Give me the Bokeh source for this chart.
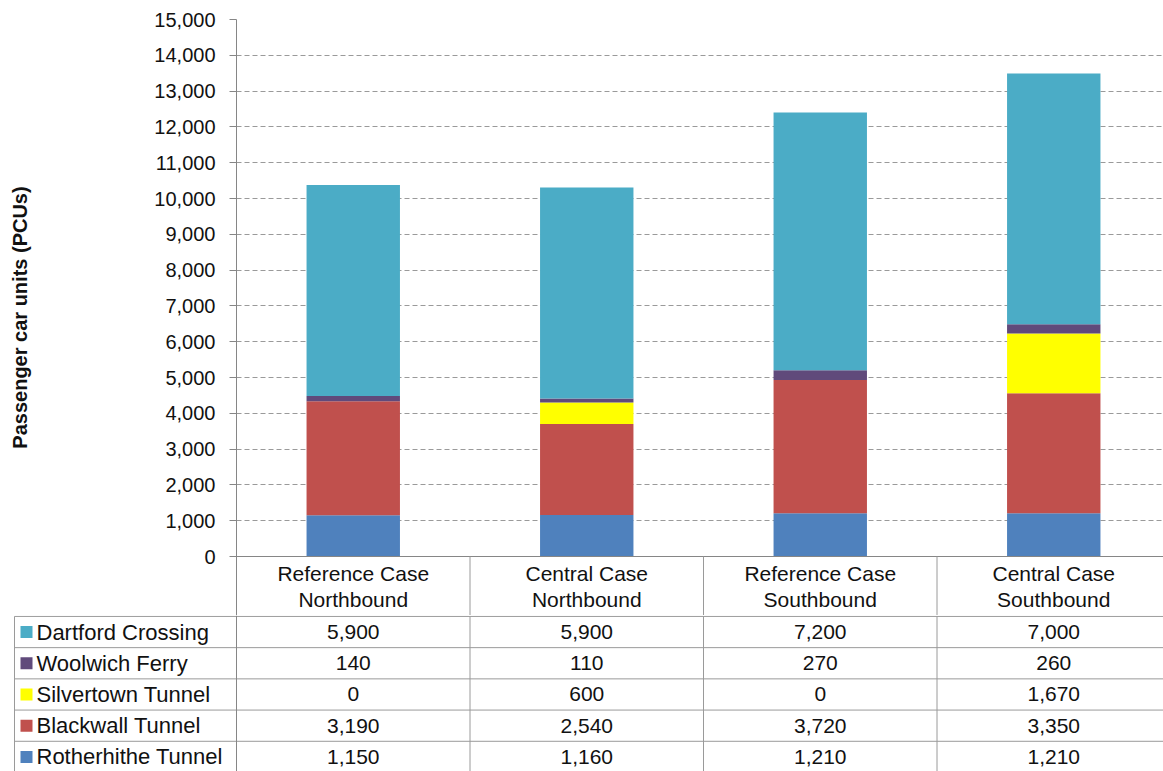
from bokeh.plotting import figure
from bokeh.models import (ColumnDataSource, Range1d, FixedTicker, NumeralTickFormatter)
from bokeh.core.properties import value
from bokeh.embed import file_html
from bokeh.resources import INLINE

# ---- data ----
cat_line1 = ["Reference Case", "Central Case", "Reference Case", "Central Case"]
cat_line2 = ["Northbound", "Northbound", "Southbound", "Southbound"]
rotherhithe = [1150, 1160, 1210, 1210]
blackwall = [3190, 2540, 3720, 3350]
silvertown = [0, 600, 0, 1670]
woolwich = [140, 110, 270, 260]
dartford = [5900, 5900, 7200, 7000]

series_names = ["Rotherhithe Tunnel", "Blackwall Tunnel", "Silvertown Tunnel",
                "Woolwich Ferry", "Dartford Crossing"]
series_values = [rotherhithe, blackwall, silvertown, woolwich, dartford]
colors = ["#4F81BD", "#C0504D", "#FFFF00", "#604A7B", "#4BACC6"]

y_ticks = list(range(0, 15001, 1000))

FONT = "Liberation Sans"
GRID = "#9a9a9a"
AXIS = "#868686"
TXT = "#111111"

xs = [i + 0.5 for i in range(len(cat_line1))]
X_END = 3.97

# ---- top chart ----
data = {"x": xs}
for name, vals in zip(series_names, series_values):
    data[name] = vals
src = ColumnDataSource(data)

top = figure(width=1163, height=615, x_range=Range1d(0, X_END),
             y_range=Range1d(-1648, 15000), output_backend="svg",
             toolbar_location=None, min_border_left=236, min_border_right=0,
             min_border_top=19, min_border_bottom=0, outline_line_color=None)
top.vbar_stack(series_names, x="x", width=0.4, source=src, color=colors,
               line_color=None)

top.xaxis.visible = False
top.xgrid.visible = False
top.ygrid.ticker = FixedTicker(ticks=y_ticks[1:])
top.ygrid.grid_line_color = GRID
top.ygrid.grid_line_dash = "5 3"
top.ygrid.grid_line_width = 1

ya = top.yaxis[0]
ya.ticker = FixedTicker(ticks=y_ticks)
ya.formatter = NumeralTickFormatter(format="0,0")
ya.axis_line_color = AXIS
ya.major_tick_line_color = AXIS
ya.major_tick_out = 7
ya.major_tick_in = 0
ya.minor_tick_line_color = None
ya.major_label_standoff = 14
ya.major_label_text_font = FONT
ya.major_label_text_font_size = "20px"
ya.major_label_text_color = TXT
ya.axis_label = "Passenger car units (PCUs)"
ya.axis_label_text_font = FONT
ya.axis_label_text_font_size = "20px"
ya.axis_label_text_font_style = "bold"
ya.axis_label_text_color = TXT
ya.axis_label_standoff = 120

# baseline and header dividers
top.segment(x0=[0], y0=[0], x1=[X_END], y1=[0], line_color=AXIS, line_width=1)
top.segment(x0=[1, 2, 3], y0=[0, 0, 0], x1=[1, 2, 3], y1=[-1700] * 3,
            line_color=GRID, line_width=1)
top.text(x=xs, y=[-470] * 4, text=cat_line1, text_align="center",
         text_baseline="middle", text_font=value(FONT), text_font_size="21px",
         text_color=TXT)
top.text(x=xs, y=[-1200] * 4, text=cat_line2, text_align="center",
         text_baseline="middle", text_font=value(FONT), text_font_size="21px",
         text_color=TXT)

# ---- bottom table (separate root, full width frame) ----
x_left = -236 / 233.5
bot = figure(width=1163, height=157, x_range=Range1d(x_left, X_END),
             y_range=Range1d(0, 5.03), output_backend="svg",
             toolbar_location=None, min_border=0, outline_line_color=None)
bot.axis.visible = False
bot.grid.visible = False

tbl_left = (14 - 236) / 233.5
rows_top_down = list(reversed(list(zip(series_names, series_values, colors))))
n = len(rows_top_down)
bot.segment(x0=[tbl_left] * n, y0=list(range(1, n + 1)), x1=[X_END] * n,
            y1=list(range(1, n + 1)), line_color=GRID, line_width=1)
vx = [tbl_left, 1, 2, 3]
bot.segment(x0=vx, y0=[0] * len(vx), x1=vx, y1=[5] * len(vx),
            line_color=GRID, line_width=1)
bot.segment(x0=[0], y0=[0], x1=[0], y1=[5.03], line_color=AXIS, line_width=1)

for i, (name, vals, col) in enumerate(rows_top_down):
    yc = n - 1 - i + 0.5
    bot.scatter(x=[(26 - 236) / 233.5], y=[yc], marker="square", size=12,
                fill_color=col, line_color=None)
    bot.text(x=[(36 - 236) / 233.5], y=[yc], text=[name], text_align="left",
             text_baseline="middle", text_font=value(FONT),
             text_font_size="22px", text_color=TXT)
    bot.text(x=xs, y=[yc] * len(xs), text=[f"{v:,}" for v in vals],
             text_align="center", text_baseline="middle",
             text_font=value(FONT), text_font_size="21px", text_color=TXT)

open("out.html", "w").write(file_html([top, bot], INLINE))
